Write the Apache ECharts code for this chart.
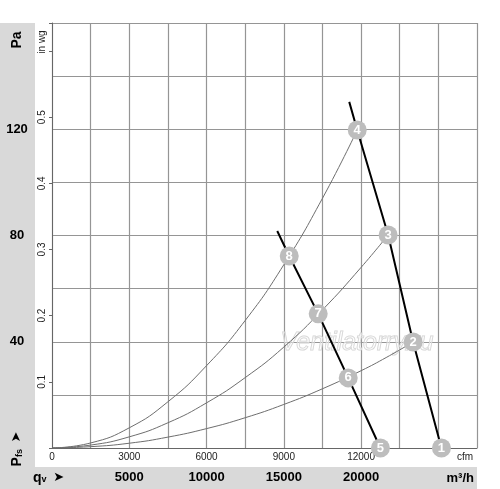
<!DOCTYPE html>
<html>
<head>
<meta charset="utf-8">
<script src="https://cdn.jsdelivr.net/npm/echarts@6/dist/echarts.min.js"></script>
<style>
html,body{margin:0;padding:0;background:#fff;}
#c{width:500px;height:489px;}
</style>
</head>
<body>
<div id="c"></div>
<script>
// ---- data ----
const cfmTicks = [0, 3000, 6000, 9000, 12000];
const m3hTicks = [5000, 10000, 15000, 20000];
const paTicks = [40, 80, 120];
const inwgTicks = [0.1, 0.2, 0.3, 0.4, 0.5];

// system curves (cfm, Pa)
const sysAx = [0, 1500, 3000, 4500, 6000, 7500, 9000, 10500, 11850];
const sysAy = [0, 1.9, 7.6, 17.4, 31, 48, 69, 94, 119.7];
const sysBx = [0, 1500, 3000, 4500, 6000, 7500, 9000, 10500, 12000, 13050];
const sysBy = [0, 1.1, 4.2, 9.5, 17, 26.5, 38, 52, 68, 80.2];
const sysCx = [0, 1500, 3000, 4500, 6000, 7500, 9000, 10500, 12000, 13000, 14020];
const sysCy = [0, 0.5, 1.8, 4.1, 7.3, 11.4, 16.4, 22.3, 29.1, 34.2, 39.9];

// fan curves
const fanHighX = [11540, 11850, 13050, 14020, 15120];
const fanHighY = [130.3, 119.7, 80.2, 39.9, 0];
const fanLowX = [8745, 9210, 10335, 11500, 12750];
const fanLowY = [81.7, 72.3, 50.5, 26.4, 0];

// numbered operating points
const ptIds = [1, 2, 3, 4, 5, 6, 7, 8];
const ptX = [15120, 14020, 13050, 11850, 12750, 11500, 10335, 9210];
const ptY = [0, 39.9, 80.2, 119.7, 0, 26.4, 50.5, 72.3];

const PA_MAX = 160;
const INWG_PER_PA = 1 / 249.089;

const zip = (xs, ys) => xs.map((x, i) => [x, ys[i]]);
const FONT = '"Liberation Sans", Arial, Helvetica, sans-serif';

const chart = echarts.init(document.getElementById('c'));
const gridColor = '#959595';

chart.setOption({
  animation: false,
  backgroundColor: '#fff',
  textStyle: { fontFamily: FONT },
  grid: { left: 52, right: 23, top: 23, bottom: 41, containLabel: false },
  graphic: [
    { type: 'rect', z: -10, silent: true, shape: { x: 0, y: 23, width: 35, height: 466 }, style: { fill: '#d9d9d9' } },
    { type: 'rect', z: -10, silent: true, shape: { x: 0, y: 467, width: 477, height: 22 }, style: { fill: '#d9d9d9' } },
    { type: 'text', x: 17, y: 40, rotation: Math.PI / 2, style: { text: 'Pa', font: 'bold 14px ' + FONT, fill: '#000', align: 'center', verticalAlign: 'middle' } },
    { type: 'text', x: 42, y: 42, rotation: Math.PI / 2, style: { text: 'in wg', font: '10px ' + FONT, fill: '#222', align: 'center', verticalAlign: 'middle' } },
    { type: 'text', x: 17, y: 449, rotation: Math.PI / 2, style: {
        text: '{p|P}{s|fs}  {a|➤}', align: 'center', verticalAlign: 'middle',
        rich: { p: { font: 'bold 14px ' + FONT, fill: '#000' }, s: { font: 'bold 9px ' + FONT, fill: '#000', padding: [6, 0, 0, 0] }, a: { font: '13px "DejaVu Sans"', fill: '#000' } } } },
    { type: 'text', x: 33, y: 478, style: {
        text: '{p|q}{s|v}  {a|➤}', verticalAlign: 'middle',
        rich: { p: { font: 'bold 14px ' + FONT, fill: '#000' }, s: { font: 'bold 9px ' + FONT, fill: '#000', padding: [4, 0, 0, 0] }, a: { font: '13px "DejaVu Sans"', fill: '#000' } } } },
    { type: 'text', x: 465, y: 457, style: { text: 'cfm', font: '10px ' + FONT, fill: '#222', align: 'center', verticalAlign: 'middle' } },
    { type: 'text', x: 474, y: 478, style: { text: 'm³/h', font: 'bold 13px ' + FONT, fill: '#000', align: 'right', verticalAlign: 'middle' } },
    { type: 'text', x: 357, y: 343, z: 1, style: { text: 'Ventilatorry.ru', font: 'italic 25px ' + FONT, fill: 'rgba(255,255,255,0.3)', stroke: '#d2d2d2', lineWidth: 1, align: 'center', verticalAlign: 'middle' } }
  ],
  xAxis: [
    {
      type: 'value', position: 'bottom', min: 0, max: 16500, interval: 1500,
      axisLine: { show: true, onZero: false, lineStyle: { color: '#666', width: 1 } },
      axisTick: { show: false },
      splitLine: { show: true, lineStyle: { color: gridColor, width: 1.2 } },
      axisLabel: {
        margin: 4, fontSize: 10, color: '#222', fontFamily: FONT,
        showMinLabel: true, showMaxLabel: true,
        formatter: v => cfmTicks.includes(v) ? String(v) : ''
      }
    },
    {
      type: 'value', position: 'bottom', min: 0, max: 27500, interval: 5000,
      axisLine: { show: false }, axisTick: { show: false }, splitLine: { show: false },
      axisLabel: {
        margin: 23, fontSize: 13, fontWeight: 'bold', color: '#000', fontFamily: FONT,
        formatter: v => m3hTicks.includes(v) ? String(v) : ''
      }
    }
  ],
  yAxis: [
    {
      type: 'value', position: 'left', min: 0, max: PA_MAX, interval: 20,
      axisLine: { show: true, onZero: false, lineStyle: { color: '#666', width: 1 } },
      axisTick: { show: false },
      splitLine: { show: true, lineStyle: { color: gridColor, width: 1.2 } },
      axisLabel: {
        margin: 35, align: 'center', fontSize: 13, fontWeight: 'bold', color: '#000', fontFamily: FONT,
        formatter: v => paTicks.includes(v) ? String(v) : ''
      }
    },
    {
      type: 'value', position: 'left', min: 0, max: PA_MAX * INWG_PER_PA, interval: 0.1,
      axisLine: { show: false },
      axisTick: { show: true, length: 3, lineStyle: { color: '#666' } },
      splitLine: { show: false },
      axisLabel: {
        margin: 5, rotate: 90, align: 'center', verticalAlign: 'bottom', fontSize: 10, color: '#222', fontFamily: FONT,
        formatter: v => inwgTicks.some(t => Math.abs(t - v) < 1e-6) ? v.toFixed(1) : ''
      }
    }
  ],
  series: [
    { type: 'line', smooth: true, showSymbol: false, data: zip(sysAx, sysAy), lineStyle: { color: '#6e6e6e', width: 1 }, z: 2 },
    { type: 'line', smooth: true, showSymbol: false, data: zip(sysBx, sysBy), lineStyle: { color: '#6e6e6e', width: 1 }, z: 2 },
    { type: 'line', smooth: true, showSymbol: false, data: zip(sysCx, sysCy), lineStyle: { color: '#6e6e6e', width: 1 }, z: 2 },
    { type: 'line', smooth: false, showSymbol: false, data: zip(fanHighX, fanHighY), lineStyle: { color: '#000', width: 2 }, z: 3 },
    { type: 'line', smooth: false, showSymbol: false, data: zip(fanLowX, fanLowY), lineStyle: { color: '#000', width: 2 }, z: 3 },
    {
      type: 'scatter', clip: false, z: 5, symbol: 'circle', symbolSize: 19,
      itemStyle: { color: '#bdbdbd', opacity: 1 },
      data: ptIds.map((id, i) => ({ value: [ptX[i], ptY[i]], name: String(id) })),
      label: { show: true, position: 'inside', formatter: p => p.name, color: '#fff', fontSize: 13, fontWeight: 'bold', fontFamily: FONT }
    }
  ]
});
</script>
</body>
</html>
